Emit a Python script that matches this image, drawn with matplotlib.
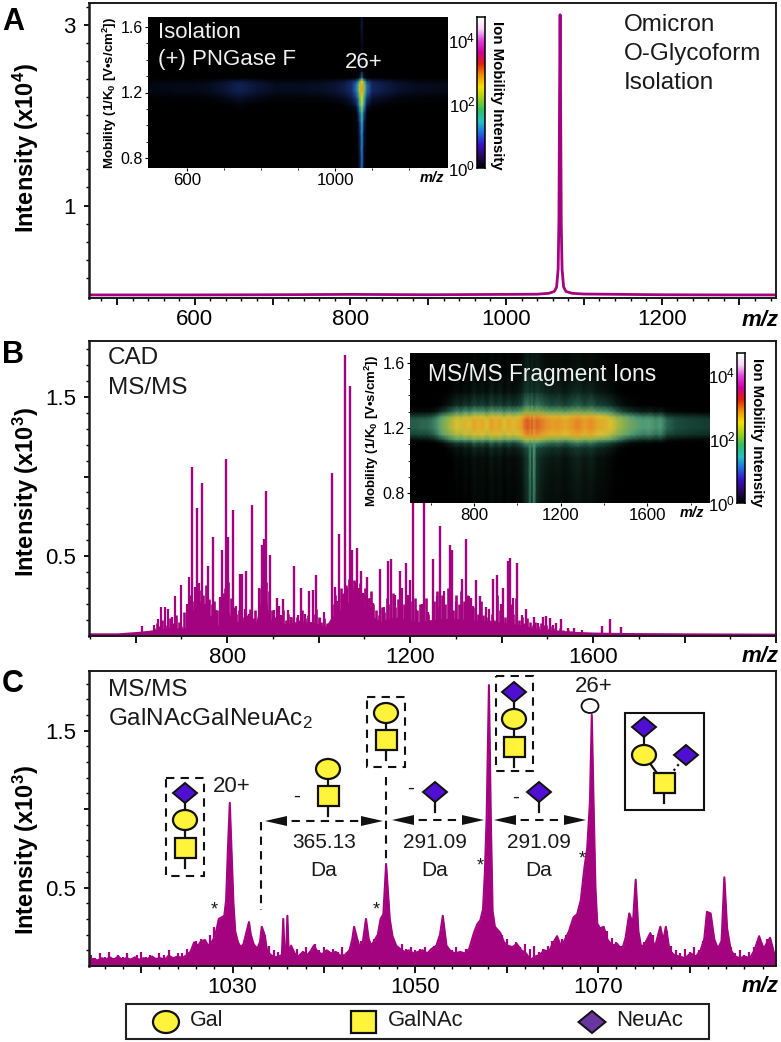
import numpy as np
import matplotlib
matplotlib.use("Agg")
import matplotlib.pyplot as plt
from matplotlib.colors import LinearSegmentedColormap
from matplotlib.patches import Ellipse, Polygon, Rectangle
from matplotlib.ticker import FixedLocator, NullFormatter

plt.rcParams["font.family"] = ["Liberation Sans", "DejaVu Sans"]
plt.rcParams["mathtext.fontset"] = "custom"
plt.rcParams["mathtext.rm"] = "Liberation Sans"
plt.rcParams["mathtext.it"] = "Liberation Sans:italic"
plt.rcParams["mathtext.bf"] = "Liberation Sans:bold"

W, H = 781, 1042
TRACE = "#A4037F"
YELLOW = "#FFF33B"
BLUE = "#4E0FD2"

# --- panel A spectrum ---
a_mz = [464, 520, 600, 700, 800, 900, 1000, 1040, 1055, 1062, 1065, 1067, 1068, 1068.8,
        1069.5, 1070.2, 1071, 1072, 1074, 1077, 1085, 1100, 1150, 1200, 1280, 1350]
a_int = [0.012, 0.012, 0.012, 0.014, 0.018, 0.014, 0.018, 0.02, 0.03, 0.05, 0.10, 0.3, 0.85, 2.2,
         3.11, 2.1, 0.8, 0.3, 0.10, 0.05, 0.03, 0.022, 0.018, 0.014, 0.012, 0.012]

# --- panel A inset ---
a_img_mz = [494, 560, 620, 660, 700, 740, 790, 840, 900, 960, 1000, 1025, 1045, 1058,
            1066, 1071, 1074, 1078, 1086, 1100, 1130, 1170, 1220, 1305]
a_img_band = [0.25, 0.3, 0.3, 0.35, 0.5, 0.65, 0.5, 0.35, 0.35, 0.4, 0.5, 0.6, 0.8, 1.0,
              1.2, 1.3, 1.3, 1.1, 0.9, 0.7, 0.6, 0.45, 0.35, 0.3]
a_img_tail = [-9, -9, -9, -9, -9, -9, -9, -9, -9, -9, -9, -9, -9, 1.3,
              2.2, 2.9, 2.9, 2.1, 1.2, -9, -9, -9, -9, -9]
a_img_mob = [0.74, 0.85, 0.95, 1.02, 1.08, 1.12, 1.17, 1.21, 1.25, 1.27, 1.29, 1.33, 1.45, 1.58, 1.66]
a_img_band_off = [-3, -3, -3, -2.4, -1.0, -0.5, -0.2, 0, 0, -0.1, -1.5, -3, -3, -3, -3]
a_img_tail_off = [-1.8, -1.7, -1.6, -1.4, -1.1, -0.7, -0.3, 0, 0, -0.3, -1.7, -2.5, -2.8, -2.4, -2.4]

# --- panel B spectrum ---
b_peak_mz = [724, 734, 744, 758, 769, 789, 797, 801, 812, 828, 832, 842, 855, 876, 881, 885, 893,
             908, 914, 923, 933, 947, 962, 979, 988, 995, 1029, 1035, 1045, 1057, 1069, 1074, 1083,
             1093, 1105, 1135, 1152, 1159, 1177, 1190, 1199, 1207, 1231, 1249, 1266, 1287, 1291,
             1313, 1323, 1333, 1344, 1353, 1365, 1381, 1391, 1404, 1413, 1419, 1433, 1453, 1470,
             1491, 1498, 1506, 1520, 1531, 1545, 1558, 1620, 1637, 1662]
b_peak_int = [1.06, 0.80, 0.96, 0.44, 0.62, 0.54, 1.11, 0.62, 0.79, 0.39, 0.39, 0.41, 0.82, 0.57,
              0.61, 0.91, 0.51, 0.24, 0.19, 0.23, 0.16, 0.44, 0.30, 0.28, 0.29, 0.38, 1.02, 0.31,
              0.64, 1.76, 1.57, 0.54, 0.55, 0.41, 0.37, 0.42, 0.47, 0.48, 0.41, 0.46, 0.35, 1.15,
              1.10, 0.48, 0.69, 0.57, 0.54, 0.36, 0.61, 0.24, 0.35, 0.25, 0.18, 0.36, 0.38, 0.30,
              0.47, 0.49, 0.46, 0.17, 0.12, 0.12, 0.125, 0.115, 0.084, 0.105, 0.05, 0.05, 0.063,
              0.105, 0.056]
b_small_mz = [614, 640, 649, 656, 664, 671, 679, 687, 699, 712, 717, 729, 739, 751, 776, 784, 820,
              838, 848, 870, 902, 918, 940, 955, 970, 1003, 1012, 1040, 1052, 1063, 1080, 1088,
              1098, 1112, 1120, 1144, 1166, 1182, 1195, 1214, 1225, 1240, 1258, 1275, 1300, 1328,
              1338, 1372, 1398, 1425, 1445, 1480, 1512, 1575]
b_small_int = [0.06, 0.07, 0.105, 0.18, 0.18, 0.17, 0.12, 0.25, 0.32, 0.20, 0.37, 0.31, 0.335,
               0.20, 0.16, 0.245, 0.19, 0.17, 0.14, 0.30, 0.16, 0.13, 0.12, 0.13, 0.14, 0.11, 0.15,
               0.22, 0.26, 0.30, 0.34, 0.30, 0.27, 0.24, 0.21, 0.18, 0.26, 0.30, 0.26, 0.17, 0.20,
               0.15, 0.25, 0.28, 0.22, 0.25, 0.19, 0.17, 0.20, 0.24, 0.13, 0.08, 0.07, 0.04]
# dense low peaks, one every 6 m/z from 640
b_comb_int = [0.05, 0.08, 0.06, 0.10, 0.07, 0.05, 0.11, 0.08, 0.13, 0.09, 0.06, 0.15, 0.10,
              0.26, 0.22, 0.30, 0.24, 0.29, 0.26, 0.32, 0.23, 0.20, 0.22, 0.16, 0.19, 0.27,
              0.30, 0.34, 0.24, 0.18, 0.14, 0.16, 0.12, 0.15, 0.13, 0.17, 0.11, 0.16, 0.10,
              0.30, 0.38, 0.34, 0.28, 0.16, 0.12, 0.10, 0.13, 0.16, 0.10, 0.14, 0.12, 0.09,
              0.12, 0.10, 0.16, 0.11, 0.13, 0.09, 0.14, 0.17, 0.12, 0.09, 0.11, 0.08, 0.07,
              0.20, 0.26, 0.22, 0.30, 0.27, 0.32, 0.36, 0.30, 0.35, 0.29, 0.33, 0.27, 0.30,
              0.24, 0.28, 0.20, 0.16, 0.13, 0.18, 0.15, 0.24, 0.20, 0.27, 0.18, 0.23, 0.25,
              0.20, 0.26, 0.18, 0.22, 0.24, 0.16, 0.20, 0.17, 0.24, 0.14, 0.10, 0.22, 0.28,
              0.18, 0.26, 0.20, 0.30, 0.24, 0.16, 0.26, 0.20, 0.28, 0.22, 0.26, 0.16, 0.14,
              0.18, 0.14, 0.22, 0.13, 0.12, 0.10, 0.14, 0.10, 0.26, 0.16, 0.20, 0.12, 0.24,
              0.20, 0.14, 0.24, 0.10, 0.12, 0.08, 0.11, 0.09, 0.07, 0.09, 0.06, 0.08, 0.07,
              0.07, 0.05, 0.06, 0.05, 0.04, 0.05, 0.04, 0.03, 0.04, 0.03]
b_env_mz = [498, 560, 610, 640, 670, 682, 700, 712, 722, 735, 745, 755, 770, 782, 795, 808, 818,
            835, 850, 862, 872, 882, 892, 902, 925, 955, 985, 1015, 1028, 1045, 1060, 1080, 1095,
            1115, 1135, 1150, 1175, 1195, 1215, 1240, 1270, 1300, 1330, 1360, 1390, 1420, 1445,
            1470, 1500, 1550, 1600, 1670, 1800, 2004]
b_env_int = [0.02, 0.02, 0.03, 0.04, 0.05, 0.05, 0.05, 0.05, 0.14, 0.24, 0.20, 0.14, 0.12,
             0.06, 0.20, 0.12, 0.09, 0.10, 0.08, 0.08, 0.20, 0.28, 0.12, 0.07, 0.08, 0.09, 0.09,
             0.06, 0.12, 0.16, 0.20, 0.24, 0.18, 0.13, 0.09, 0.11, 0.12, 0.10, 0.09, 0.10, 0.11,
             0.11, 0.10, 0.10, 0.09, 0.08, 0.07, 0.05, 0.04, 0.03, 0.025, 0.022, 0.02, 0.018]

# --- panel B inset ---
b_img_mz = [505, 530, 555, 580, 605, 625, 640, 655, 670, 685, 700, 720, 740, 760, 780, 800, 820,
            840, 860, 880, 900, 920, 940, 960, 980, 1000, 1020, 1035, 1050, 1060, 1068, 1076, 1090,
            1110, 1130, 1160, 1190, 1220, 1250, 1280, 1310, 1340, 1370, 1400, 1430, 1460, 1490,
            1520, 1550, 1580, 1610, 1640, 1660, 1690, 1730, 1790, 1889]
b_img_band = [1.3, 1.3, 1.35, 1.35, 1.45, 1.6, 1.8, 2.0, 2.15, 2.3, 2.4, 2.6, 2.5, 2.7, 2.55,
              2.85, 2.7, 2.8, 2.6, 2.9, 2.7, 2.85, 2.6, 2.8, 2.65, 2.75, 2.9, 3.15, 3.25, 3.1,
              3.25, 3.05, 3.2, 3.1, 3.0, 2.9, 2.95, 2.8, 2.95, 3.05, 2.9, 3.0, 2.8, 2.75, 2.6,
              2.35, 2.15, 1.95, 1.8, 1.7, 1.75, 1.6, 1.7, 1.35, 1.2, 1.1, 1.0]
b_img_tail = [-9, -9, -9, -9, -9, -9, -9, -9, -9, -9, -9, -9, -9, -9, -9, -9, -9, -9, -9, -9, -9,
              -9, -9, -9, -9, -9, -9, 0.8, 1.0, 1.5, 1.0, 1.6, 0.9, 0.7, -9, -9, -9, -9, -9, -9,
              -9, -9, -9, -9, -9, -9, -9, -9, -9, -9, -9, -9, -9, -9, -9, -9, -9]
b_img_mob = [0.74, 0.9, 1.02, 1.08, 1.11, 1.13, 1.16, 1.2, 1.25, 1.27, 1.3, 1.34, 1.42, 1.55, 1.66]
b_img_band_off = [-2.5, -2.4, -2.3, -2.0, -1.5, -0.8, -0.2, 0, 0, -0.2, -1.0, -1.7, -2.2, -2.5, -2.6]
b_img_tail_off = [-0.1, 0, 0.05, 0.1, 0.1, 0.1, 0.2, 0.2, 0.2, -0.3, -0.8, -1.1, -1.2, -1.1, -1.0]

# --- panel C spectrum ---
c_mz = [1014.3, 1014.8, 1015.2, 1015.7, 1016.1, 1016.6, 1017, 1017.5, 1017.9, 1018.4, 1018.9, 1019.3,
        1019.8, 1020.3, 1020.7, 1021.2, 1021.6, 1022.1, 1022.6, 1023, 1023.5, 1024, 1024.5, 1025,
        1025.4, 1025.8, 1026.2, 1026.6, 1027, 1027.3, 1027.7, 1028.1, 1028.5, 1028.8, 1029.1, 1029.3,
        1029.5, 1029.7, 1029.9, 1030.1, 1030.3, 1030.6, 1030.9, 1031.2, 1031.5, 1031.8, 1032, 1032.3,
        1032.7, 1033, 1033.2, 1033.5, 1033.8, 1034.2, 1034.6, 1035, 1035.4, 1035.55, 1035.7, 1035.85,
        1036, 1036.15, 1036.4, 1036.8, 1037.2, 1037.7, 1038.2, 1038.6, 1038.9, 1039.3, 1039.8, 1040.3,
        1040.8, 1041.3, 1041.8, 1042.3, 1042.8, 1043.1, 1043.3, 1043.6, 1043.9, 1044.2, 1044.6, 1044.9,
        1045.2, 1045.5, 1045.9, 1046.2, 1046.5, 1046.8, 1047, 1047.2, 1047.5, 1047.9, 1048.3, 1048.8,
        1049.3, 1049.8, 1050.3, 1050.8, 1051.3, 1051.8, 1052.3, 1052.7, 1053, 1053.4, 1053.9, 1054.4,
        1054.9, 1055.4, 1055.9, 1056.4, 1056.8, 1057.1, 1057.4, 1057.6, 1057.8, 1058.05, 1058.25, 1058.45,
        1058.7, 1059, 1059.3, 1059.7, 1060.1, 1060.6, 1061.1, 1061.6, 1062.1, 1062.6, 1063.1, 1063.6,
        1064.1, 1064.6, 1065.1, 1065.5, 1065.9, 1066.3, 1066.8, 1067.3, 1067.7, 1068.1, 1068.5, 1068.8,
        1069.1, 1069.3, 1069.5, 1069.7, 1069.9, 1070.2, 1070.6, 1071, 1071.5, 1072.1, 1072.6, 1073,
        1073.4, 1073.8, 1074.1, 1074.4, 1074.7, 1075.1, 1075.7, 1076.2, 1076.8, 1077.1, 1077.4, 1077.8,
        1078.3, 1078.9, 1079.5, 1080.1, 1080.7, 1081.2, 1081.6, 1081.9, 1082.3, 1082.7, 1083.1, 1083.5,
        1083.8, 1084.1, 1084.5, 1085, 1085.5, 1086, 1086.6, 1087.1, 1087.6, 1088.1, 1088.5, 1088.8,
        1089.2, 1089.6]
c_int = [0.04, 0.045, 0.035, 0.05, 0.04, 0.055, 0.04, 0.06, 0.04, 0.05, 0.04, 0.055,
         0.04, 0.05, 0.045, 0.06, 0.045, 0.05, 0.04, 0.065, 0.05, 0.06, 0.05, 0.07,
         0.09, 0.15, 0.13, 0.16, 0.165, 0.13, 0.15, 0.19, 0.30, 0.31, 0.32, 0.42,
         0.75, 1.04, 0.72, 0.40, 0.22, 0.15, 0.12, 0.14, 0.21, 0.28, 0.20, 0.14,
         0.11, 0.15, 0.25, 0.20, 0.09, 0.07, 0.055, 0.06, 0.07, 0.30, 0.06, 0.07,
         0.32, 0.07, 0.13, 0.08, 0.06, 0.09, 0.07, 0.10, 0.13, 0.09, 0.075, 0.10,
         0.08, 0.09, 0.065, 0.07, 0.10, 0.17, 0.25, 0.18, 0.12, 0.13, 0.30, 0.17,
         0.13, 0.16, 0.20, 0.30, 0.33, 0.65, 0.48, 0.30, 0.19, 0.13, 0.11, 0.09,
         0.10, 0.08, 0.09, 0.10, 0.08, 0.11, 0.13, 0.20, 0.32, 0.13, 0.09, 0.08,
         0.09, 0.08, 0.11, 0.21, 0.27, 0.29, 0.36, 0.59, 0.95, 1.79, 0.95, 0.35,
         0.25, 0.23, 0.21, 0.15, 0.13, 0.12, 0.14, 0.10, 0.08, 0.04, 0.06, 0.07,
         0.10, 0.09, 0.15, 0.19, 0.13, 0.16, 0.22, 0.31, 0.33, 0.42, 0.63, 0.75,
         1.05, 1.60, 1.02, 0.50, 0.27, 0.24, 0.25, 0.17, 0.13, 0.14, 0.10, 0.18,
         0.335, 0.27, 0.55, 0.22, 0.12, 0.14, 0.21, 0.12, 0.25, 0.16, 0.25, 0.10,
         0.07, 0.06, 0.05, 0.08, 0.06, 0.10, 0.17, 0.345, 0.335, 0.17, 0.11, 0.16,
         0.565, 0.24, 0.10, 0.06, 0.05, 0.06, 0.05, 0.10, 0.19, 0.11, 0.15, 0.18,
         0.09, 0.05]
# jagged top of the trace, one value every 0.5 m/z from 1014.5
c_noise_int = [0.07, 0.05, 0.08, 0.06, 0.09, 0.05, 0.07, 0.06, 0.08, 0.05,
               0.07, 0.09, 0.06, 0.07, 0.05, 0.08, 0.07, 0.10, 0.06, 0.08,
               0.08, 0.11, 0.10, 0.16, 0.17, 0.15, 0.20, 0.25, 0.28, 0.30,
               0.30, 0.30, 0.16, 0.13, 0.16, 0.19, 0.13, 0.15, 0.20, 0.13,
               0.10, 0.09, 0.10, 0.12, 0.09, 0.11, 0.08, 0.12, 0.09, 0.14,
               0.10, 0.12, 0.08, 0.11, 0.09, 0.12, 0.09, 0.11, 0.20, 0.16,
               0.20, 0.14, 0.17, 0.22, 0.20, 0.18, 0.15, 0.12, 0.14, 0.11,
               0.12, 0.10, 0.11, 0.12, 0.09, 0.13, 0.11, 0.14, 0.11, 0.10,
               0.12, 0.09, 0.11, 0.13, 0.16, 0.22, 0.26, 0.30, 0.28, 0.22,
               0.20, 0.17, 0.13, 0.15, 0.12, 0.14, 0.11, 0.13, 0.09, 0.11,
               0.13, 0.16, 0.18, 0.17, 0.20, 0.26, 0.30, 0.34, 0.50, 0.60,
               0.50, 0.26, 0.24, 0.22, 0.18, 0.15, 0.13, 0.14, 0.17, 0.22,
               0.13, 0.15, 0.18, 0.20, 0.16, 0.20, 0.22, 0.13, 0.10, 0.08,
               0.11, 0.09, 0.12, 0.10, 0.16, 0.15, 0.14, 0.12, 0.20, 0.22,
               0.12, 0.08, 0.10, 0.07, 0.09, 0.12, 0.16, 0.13, 0.17, 0.14]

legend_names = ["Gal", "GalNAc", "NeuAc"]

# colours of the ion mobility scale, from 10^0 to the top of the bar
ims_colors = ["#000000", "#2a0a5e", "#3a10c8", "#1e6ee0", "#28c0c8", "#30c060", "#a0d020",
              "#f8e000", "#f09000", "#e02010", "#d000a0", "#e040e0", "#f8d8f8", "#ffffff"]
ims_cmap = LinearSegmentedColormap.from_list("ims", ims_colors)
iso_cmap = LinearSegmentedColormap.from_list(
    "iso", [(0, "#000000"), (0.05, "#03060f"), (0.1, "#0a1230"), (0.2, "#1c3a8a"), (0.3, "#2a90c8"),
            (0.4, "#40c070"), (0.5, "#c8d830"), (0.57, "#f8c820"), (0.65, "#f08020"), (1, "#e02010")])
frag_cmap = LinearSegmentedColormap.from_list(
    "frag", [(0, "#000000"), (0.14, "#07100c"), (0.33, "#1a4a3c"), (0.47, "#4f9a78"),
             (0.61, "#8fb24a"), (0.72, "#dcc030"), (0.82, "#e69a25"), (0.92, "#d9502a"),
             (1, "#c82a20")])


def px_axes(left, top, right, bottom, **kw):
    return fig.add_axes([left / W, 1 - bottom / H, (right - left) / W, (bottom - top) / H], **kw)


def style_spectrum(ax, xlim, ylim, xmajor, xminor, xlabels, ymajor, yminor, ylabels):
    ax.set_xlim(*xlim)
    ax.set_ylim(*ylim)
    ax.set_xticks(xmajor)
    ax.set_xticklabels([str(t) if t in xlabels else "" for t in xmajor], fontsize=16)
    ax.xaxis.set_minor_locator(FixedLocator(xminor))
    ax.set_yticks(ymajor)
    ax.set_yticklabels(ylabels, fontsize=16)
    ax.yaxis.set_minor_locator(FixedLocator(yminor))
    ax.xaxis.set_minor_formatter(NullFormatter())
    ax.tick_params(axis="x", which="major", length=5, width=1.3, pad=3)
    ax.tick_params(axis="x", which="minor", length=2.5, width=1)
    ax.tick_params(axis="y", which="major", length=3.5, width=1.3, pad=6)
    ax.tick_params(axis="y", which="minor", length=2, width=1)
    for s in ax.spines.values():
        s.set_linewidth(1.4)
        s.set_color("#1a1a1a")
    ax.spines["left"].set_linewidth(1.8)


def build_heat(band, band_off, tail, tail_off):
    band_part = np.add.outer(np.array(band_off), np.array(band))
    tail_part = np.add.outer(np.array(tail_off), np.array(tail))
    return np.clip(np.maximum(band_part, tail_part), 0, None)


def draw_inset(img, bar, mz, mob, values, xlim, xticks, xminor, cmap, vmax):
    ax = px_axes(*img, zorder=5)
    ax.pcolormesh(mz, mob, values, shading="gouraud", cmap=cmap, vmin=0, vmax=vmax, rasterized=True)
    ax.set_xlim(*xlim)
    ax.set_ylim(0.74, 1.66)
    ax.set_xticks(xticks)
    ax.set_xticklabels([str(t) for t in xticks], fontsize=12.2)
    ax.xaxis.set_minor_locator(FixedLocator(xminor))
    ax.set_yticks([0.8, 1.2, 1.6])
    ax.set_yticklabels(["0.8", "1.2", "1.6"], fontsize=11.5)
    ax.yaxis.set_minor_locator(FixedLocator([0.9, 1.0, 1.1, 1.3, 1.4, 1.5]))
    ax.tick_params(which="major", length=2.5, width=0.8, pad=1)
    ax.tick_params(which="minor", length=1.5, width=0.6)
    for s in ax.spines.values():
        s.set_visible(False)

    cax = px_axes(*bar, zorder=5)
    grad = np.linspace(0, 4.7, 256).reshape(-1, 1)
    cax.imshow(grad, origin="lower", aspect="auto", cmap=ims_cmap, extent=[0, 1, 0, 4.7])
    cax.set_xticks([])
    cax.yaxis.tick_left()
    cax.set_yticks([0, 2, 4])
    cax.set_yticklabels([r"10$^{0}$", r"10$^{2}$", r"10$^{4}$"], fontsize=12.2)
    cax.tick_params(length=0, pad=1)
    for s in cax.spines.values():
        s.set_linewidth(1.1)


def gal(x, y, w=24, h=20):
    ov.add_patch(Ellipse((x, y), w, h, fc=YELLOW, ec="#111111", lw=1.6, zorder=3))


def galnac(x, y, w=21, h=20):
    ov.add_patch(Rectangle((x - w / 2, y - h / 2), w, h, fc=YELLOW, ec="#111111", lw=1.6, zorder=3))


def neuac(x, y, w=24, h=20, fc=BLUE):
    ov.add_patch(Polygon([(x - w / 2, y), (x, y - h / 2), (x + w / 2, y), (x, y + h / 2)],
                         closed=True, fc=fc, ec="#111111", lw=1.4, zorder=3))


def stem(x, y0, y1):
    ov.plot([x, x], [y0, y1], color="#111111", lw=1.6, zorder=2)


def dash_box(x0, y0, x1, y1):
    ov.add_patch(Rectangle((x0, y0), x1 - x0, y1 - y0, fill=False, ec="#111111", lw=1.5,
                           ls=(0, (4, 3))))


def dash_arrow(x0, x1, y):
    ov.plot([x0 + 12, x1 - 12], [y, y], color="#111111", lw=1.5, ls=(0, (4, 3)))
    ov.add_patch(Polygon([(x0, y), (x0 + 22, y - 5), (x0 + 22, y + 5)], fc="#111111", ec="none"))
    ov.add_patch(Polygon([(x1, y), (x1 - 22, y - 5), (x1 - 22, y + 5)], fc="#111111", ec="none"))


def txt(x, y, s, size=14, **kw):
    kw.setdefault("ha", "left")
    kw.setdefault("va", "center")
    kw.setdefault("color", "#1a1a1a")
    ov.text(x, y, s, fontsize=size, **kw)


fig = plt.figure(figsize=(W / 100, H / 100), dpi=100)

# panel A
ax_a = px_axes(89, 3, 776, 298)
ax_a.plot(a_mz, a_int, color=TRACE, lw=2)
style_spectrum(ax_a, (464, 1347), (-0.022, 3.24),
               list(range(500, 1301, 100)), list(range(480, 1347, 20)), [600, 800, 1000, 1200],
               [1, 3], [0.2, 0.4, 0.6, 0.8, 1.2, 1.4, 1.6, 1.8, 2, 2.2, 2.4, 2.6, 2.8, 3.2], ["1", "3"])

# panel B
ax_b = px_axes(89, 341, 776, 636)
ax_b.fill_between(b_env_mz, 0, b_env_int, color=TRACE, lw=0)
ax_b.vlines(640 + 6 * np.arange(len(b_comb_int)), 0, b_comb_int, color=TRACE, lw=1.9)
ax_b.vlines(b_small_mz, 0, b_small_int, color=TRACE, lw=1.6)
ax_b.vlines(b_peak_mz, 0, b_peak_int, color=TRACE, lw=1.7)
style_spectrum(ax_b, (498, 2000), (0, 1.85),
               list(range(600, 2001, 200)), list(range(500, 2001, 100)), [800, 1200, 1600],
               [0.5, 1, 1.5], [0.1, 0.2, 0.3, 0.4, 0.6, 0.7, 0.8, 0.9, 1.1, 1.2, 1.3, 1.4, 1.6, 1.7, 1.8],
               ["0.5", "", "1.5"])

# panel C
ax_c = px_axes(89, 671, 776, 966)
ax_c.fill_between(c_mz, 0, c_int, color=TRACE, lw=0)
ax_c.plot(c_mz, c_int, color=TRACE, lw=1.5)
ax_c.vlines(1014.5 + 0.5 * np.arange(len(c_noise_int)), 0, c_noise_int, color=TRACE, lw=1.6)
style_spectrum(ax_c, (1014.3, 1089.45), (0, 1.88),
               list(range(1020, 1081, 10)), list(range(1016, 1090, 2)), [1030, 1050, 1070],
               [0.5, 1, 1.5], [0.1, 0.2, 0.3, 0.4, 0.6, 0.7, 0.8, 0.9, 1.1, 1.2, 1.3, 1.4, 1.6, 1.7, 1.8],
               ["0.5", "", "1.5"])

# insets
draw_inset((148, 17, 448, 168), (477, 17, 485, 168), a_img_mz, a_img_mob,
           build_heat(a_img_band, a_img_band_off, a_img_tail, a_img_tail_off),
           (494, 1305), [600, 1000], [700, 800, 900, 1100, 1200], iso_cmap, 4.7)
draw_inset((410, 353, 710, 503), (737, 353, 745, 503), b_img_mz, b_img_mob,
           build_heat(b_img_band, b_img_band_off, b_img_tail, b_img_tail_off),
           (505, 1889), [800, 1200, 1600], [600, 1000, 1400, 1800], frag_cmap, 3.6)

# everything drawn in picture coordinates goes on one overlay
ov = fig.add_axes([0, 0, 1, 1], zorder=10)
ov.set_xlim(0, W)
ov.set_ylim(H, 0)
ov.axis("off")

# panel letters and axis titles
for letter, y in zip("ABC", [22, 355, 684]):
    txt(2, y, letter, size=22, fontweight="bold", color="black")
for y, exp in zip([148, 492, 850], ["4", "3", "3"]):
    txt(26, y, r"Intensity (x10$\mathbf{^%s}$)" % exp, size=17, fontweight="bold", rotation=90,
        ha="center", color="black")
for y in [320, 657, 987]:
    txt(779, y, "m/z", size=16, fontweight="bold", fontstyle="italic", ha="right", color="black")

# panel A texts
txt(624, 25, "Omicron", size=17.5)
txt(624, 54, "O-Glycoform", size=17.5)
txt(624, 83, "Isolation", size=17.5)
txt(158, 32, "Isolation", size=16, color="#f0f0f0")
txt(158, 60, "(+) PNGase F", size=16, color="#f0f0f0")
txt(364, 62, "26+", size=16, color="#f0f0f0", ha="center")
txt(432, 178, "m/z", size=10.5, fontweight="bold", fontstyle="italic", ha="center", color="black")
mob_label = r"Mobility (1/K$\mathbf{_0}$ [V•s/cm$\mathbf{^2}$])"
txt(110, 93, mob_label, size=9.5, fontweight="bold", rotation=90, ha="center", color="black")
txt(497, 95, "Ion Mobility Intensity", size=10.8, fontweight="bold", rotation=-90, ha="center", color="black")

# panel B texts
txt(108, 358, "CAD", size=17.5)
txt(108, 388, "MS/MS", size=17.5)
txt(428, 375, "MS/MS Fragment Ions", size=16.4, color="#f0f0f0")
txt(692, 513, "m/z", size=10.5, fontweight="bold", fontstyle="italic", ha="center", color="black")
txt(372, 431, mob_label, size=9.5, fontweight="bold", rotation=90, ha="center", color="black")
txt(757, 432, "Ion Mobility Intensity", size=10.8, fontweight="bold", rotation=-90, ha="center", color="black")

# panel C texts
txt(108, 690, "MS/MS", size=17.5)
txt(108, 719, r"GalNAcGalNeuAc$_{2}$", size=17.5)
txt(232, 787, "20+", size=16, ha="center")
txt(594, 686, "26+", size=16, ha="center")
for x, y in [(214, 907), (376, 907), (480, 863), (582, 856)]:
    txt(x, y + 3, "*", size=13, ha="center")
for x, label in [(324, "365.13"), (435, "291.09"), (539, "291.09")]:
    txt(x, 843, label, size=15, ha="center")
    txt(x, 871, "Da", size=15, ha="center")
for x, y in [(297, 796), (411, 788), (516, 797)]:
    txt(x, y, "-", size=15, ha="center")

# glycans of panel C
dash_box(166, 778, 204, 876)
stem(185, 793, 868)
neuac(185, 793)
gal(185, 820)
galnac(185, 848)
dash_box(367, 697, 405, 767)
stem(386, 713, 760)
gal(386, 713)
galnac(386, 740)
dash_box(496, 676, 533, 771)
stem(514, 692, 767)
neuac(514, 692)
gal(514, 719)
galnac(514, 747)
stem(328, 769, 816)
gal(328, 769)
galnac(328, 796)
stem(435, 792, 812)
neuac(435, 792)
stem(539, 792, 812)
neuac(539, 792)

ov.add_patch(Ellipse((590, 706), 17, 14, fc="white", ec="#111111", lw=1.3))
ov.add_patch(Rectangle((625, 713), 79, 97, fill=False, ec="#111111", lw=1.5))
stem(644, 727, 755)
stem(664, 783, 803)
ov.plot([644, 664], [755, 783], color="#111111", lw=1.6, zorder=2)
ov.plot([686, 664], [755, 783], color="#111111", lw=1.6, ls=":", zorder=2)
neuac(644, 727)
gal(644, 755)
neuac(686, 755)
galnac(664, 783)

# dashed brackets between the fragment peaks
ov.plot([261, 261], [822, 910], color="#111111", lw=1.5, ls=(0, (4, 3)))
ov.plot([386, 386], [777, 862], color="#111111", lw=1.5, ls=(0, (4, 3)))
dash_arrow(265, 383, 821)
dash_arrow(392, 484, 820)
dash_arrow(494, 586, 820)

# legend at the bottom
ov.add_patch(Rectangle((126, 1004), 583, 35, fill=False, ec="#222222", lw=1.5))
gal(166, 1022, 26, 22)
galnac(363, 1022, 25, 22)
neuac(592, 1022, 27, 22, fc="#6A35A0")
for x, name, size in zip([190, 388, 616], legend_names, [15.5, 15.8, 16]):
    txt(x, 1021, name, size=size)

fig.savefig("out.png", dpi=100)
